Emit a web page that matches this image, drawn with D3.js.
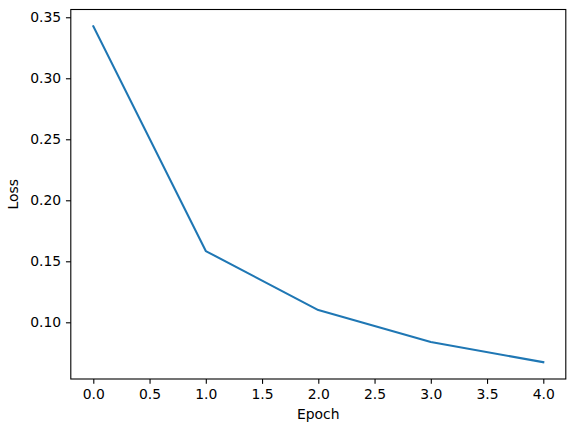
<!DOCTYPE html>
<html><head><meta charset="utf-8">
<script src="https://cdn.jsdelivr.net/npm/d3@7"></script>
<style>body{margin:0;background:#fff}svg{display:block}text{font-family:"DejaVu Sans",sans-serif}</style>
</head><body>
<svg id="c" width="576" height="432"></svg>
<script>
const epochs = [0, 1, 2, 3, 4];
const loss = [0.3426, 0.1584, 0.1100, 0.0838, 0.0673];
const xTicks = [0.0, 0.5, 1.0, 1.5, 2.0, 2.5, 3.0, 3.5, 4.0];
const yTicks = [0.10, 0.15, 0.20, 0.25, 0.30, 0.35];
const xLabel = "Epoch";
const yLabel = "Loss";

const svg = d3.select("#c");
const L = 70.8, R = 565.8, T = 9.5, B = 379;
const xr = 4 - 0, yr = d3.max(loss) - d3.min(loss);
const x = d3.scaleLinear().domain([0 - 0.05*xr, 4 + 0.05*xr]).range([L, R]);
const y = d3.scaleLinear().domain([d3.min(loss) - 0.05*yr, d3.max(loss) + 0.05*yr]).range([B, T]);
const fs = 13.9, tl = 4.86;

const xa = svg.append("g").attr("transform", `translate(0,${B})`)
  .call(d3.axisBottom(x).tickValues(xTicks).tickFormat(d3.format(".1f")).tickSize(tl).tickPadding(5.5));
const ya = svg.append("g").attr("transform", `translate(${L},0)`)
  .call(d3.axisLeft(y).tickValues(yTicks).tickFormat(d3.format(".2f")).tickSize(tl).tickPadding(4.86));
[xa, ya].forEach(a => {
  a.select(".domain").remove();
  a.selectAll("line").attr("stroke", "#000").attr("stroke-width", 1.1);
  a.selectAll("text").attr("font-size", fs).attr("fill", "#000").style("font-family", "DejaVu Sans");
});

svg.append("path").datum(epochs.map((e, i) => [e, loss[i]]))
  .attr("fill", "none").attr("stroke", "#1f77b4").attr("stroke-width", 2.08)
  .attr("stroke-linejoin", "round").attr("stroke-linecap", "square")
  .attr("d", d3.line().x(d => x(d[0])).y(d => y(d[1])));

svg.append("rect").attr("x", L).attr("y", T).attr("width", R - L).attr("height", B - T)
  .attr("fill", "none").attr("stroke", "#000").attr("stroke-width", 1.1);

svg.append("text").attr("x", (L + R) / 2).attr("y", 418.5).attr("text-anchor", "middle")
  .attr("font-size", fs).text(xLabel);
svg.append("text").attr("transform", `translate(18,${(T + B) / 2}) rotate(-90)`)
  .attr("text-anchor", "middle").attr("font-size", fs).text(yLabel);
</script>
</body></html>
